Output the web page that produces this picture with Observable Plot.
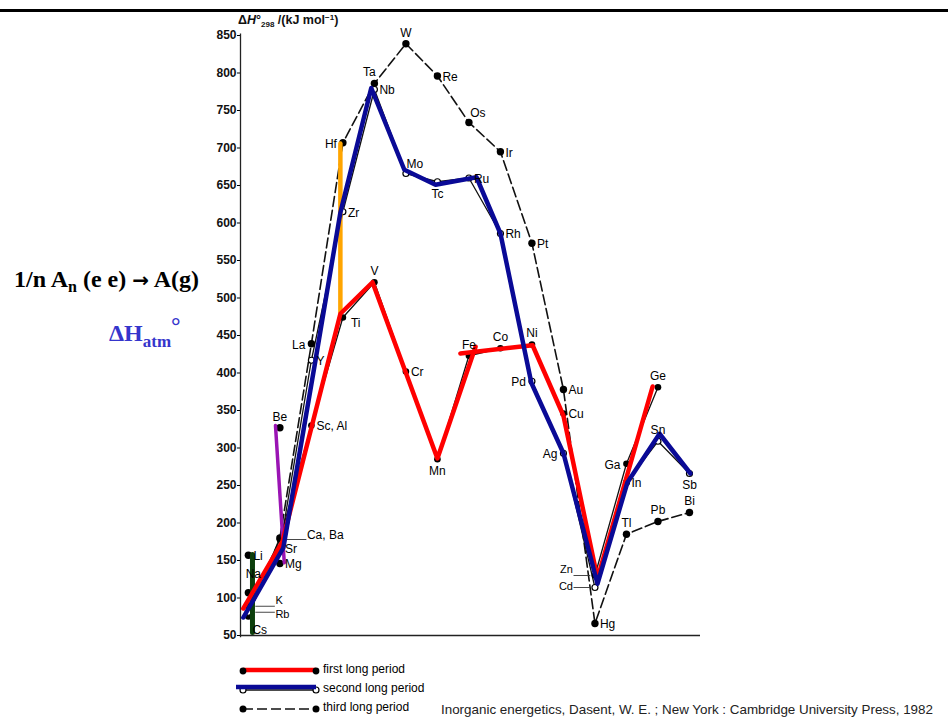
<!DOCTYPE html>
<html>
<head>
<meta charset="utf-8">
<script src="https://cdn.jsdelivr.net/npm/d3@7"></script>
<script src="https://cdn.jsdelivr.net/npm/@observablehq/plot@0.6"></script>
<style>
  body { margin: 0; background: #fff; }
  #wrap { position: relative; width: 948px; height: 723px; overflow: hidden; }
  #wrap > svg { position: absolute; left: 0; top: 0; }
</style>
</head>
<body>
<div id="wrap"></div>
<script>
// ---------- data ----------
// y-axis ticks (kJ/mol)
const yTicks = [50,100,150,200,250,300,350,400,450,500,550,600,650,700,750,800,850];

// first long period (filled dots, solid thin line)
const p4Els  = ["K","Ca","Sc","Ti","V","Cr","Mn","Fe","Co","Ni","Cu","Zn","Ga","Ge"];
const p4Vals = [89,178,330,474,521,402,285,423,433,438,346,130,279,381];
// second long period (open circles, solid thin line)
const p5Els  = ["Rb","Sr","Y","Zr","Nb","Mo","Tc","Ru","Rh","Pd","Ag","Cd","In","Sn","Sb"];
const p5Vals = [81,166,417,615,778,666,655,660,586,389,293,114,254,309,266];
// third long period (filled dots, dashed line)
const p6Els  = ["Cs","Ba","La","Hf","Ta","W","Re","Os","Ir","Pt","Au","Hg","Tl","Pb","Bi"];
const p6Vals = [76,180,439,707,786,839,796,734,695,573,378,66,185,202,214];
// light elements (filled dots, unconnected)
const lightEls    = ["Li","Na","Be","Mg"];
const lightGroups = [1,1,2,2];
const lightVals   = [157,107,327,146];

// hand-drawn coloured overlays (group position, value)
const redGroupsA  = [0.84,2.08,3.92,4.94,7.0,8.21];
const redValsA    = [86,175,479,521,286,435];
const redGroupsB  = [7.73,10.02,11.0,12.08,13.83];
const redValsB    = [426,437,343,126,382];
const blueGroups  = [0.84,2.11,3.13,3.92,4.90,5.95,6.94,8.24,9.0,9.98,11.0,12.08,13.03,14.05,15.03];
const blueVals    = [74,167,417,614,780,671,651,661,586,387,293,119,254,319,266];
const greenGroups = [1.13,1.13];
const greenVals   = [158,54];
const purpleGroups= [1.86,2.14];
const purpleVals  = [330,147];
const orangeGroups= [3.92,3.92];
const orangeVals  = [706,481];

// label texts / placement
const labelNames = {Sc: "Sc, Al", Ca: "Ca, Ba"};
const labRight      = ["Li","Mg","Sc","Y","Zr","Nb","Cr","Re","Ru","Rh","Ir","Pt","Au","Hg","In","Sr","Cu"];
const labLeft       = ["La","Hf","Pd","Ag","Ga"];
const labAbove      = ["Be","V","W","Fe","Co","Ni","Tl","Ge","Sn","Pb","Bi"];
const labAboveLeft  = ["Ta"];
const labAboveHigh  = ["Na"];
const labAboveRight = ["Os","Mo"];
const labBelow      = ["Mn","Tc","Sb"];
const labBelowRight = ["Ti"];
const labBelowFar   = ["Cs"];
const labLeaderRightCa = ["Ca"];
const labLeaderRightK  = ["K"];
const labLeaderRightRb = ["Rb"];
const labLeaderLeftZn  = ["Zn"];
const labLeaderLeftCd  = ["Cd"];

// ---------- build tables ----------
const mk = (els, vals, groups) => els.map((el, i) => ({el, g: groups ? groups[i] : i + 1, v: vals[i]}));
const p4 = mk(p4Els, p4Vals);
const p5 = mk(p5Els, p5Vals);
const p6 = mk(p6Els, p6Vals);
const light = mk(lightEls, lightVals, lightGroups);
const allPts = [...p4, ...p5, ...p6, ...light];
const ov = (gs, vs, seg) => gs.map((g, i) => ({g, v: vs[i], seg}));
const red = [...ov(redGroupsA, redValsA, "a"), ...ov(redGroupsB, redValsB, "b")];
const blue = ov(blueGroups, blueVals);
const green = ov(greenGroups, greenVals);
const purple = ov(purpleGroups, purpleVals);
const orange = ov(orangeGroups, orangeVals);

const FONT = "'Liberation Sans', Arial, Helvetica, sans-serif";
const pick = list => allPts.filter(d => list.includes(d.el));
const lab = (list, o) => Plot.text(pick(list), {x: "g", y: "v", text: d => labelNames[d.el] ?? d.el,
  fontSize: 12, fill: "#000", fontFamily: FONT, ...o});

const chart = Plot.plot({
  width: 948, height: 723,
  marginLeft: 240, marginRight: 248, marginTop: 35, marginBottom: 88,
  style: {background: "transparent", fontFamily: FONT},
  x: {domain: [0.75, 15.35], axis: null},
  y: {domain: [50, 850]},
  marks: [
    Plot.axisY(yTicks, {anchor: "left", tickSize: 3, tickPadding: 1, fontSize: 12, fontWeight: "bold",
      fill: "#111", label: null, tickFormat: d => String(d)}),
    Plot.ruleX([0.75], {y1: 47, y2: 852, stroke: "#222", strokeWidth: 1.3}),
    Plot.ruleY([50], {x1: 0.75, x2: 15.35, stroke: "#222", strokeWidth: 1.3}),
    // original black series
    Plot.line(p6, {x: "g", y: "v", stroke: "#111", strokeWidth: 1.6, strokeDasharray: "10,4"}),
    Plot.line(p5, {x: "g", y: "v", stroke: "#111", strokeWidth: 1.3}),
    Plot.line(p4, {x: "g", y: "v", stroke: "#111", strokeWidth: 1.3}),
    Plot.dot(p6, {x: "g", y: "v", r: 3.7, fill: "#000"}),
    Plot.dot(p4, {x: "g", y: "v", r: 3.3, fill: "#000"}),
    Plot.dot(light, {x: "g", y: "v", r: 3.7, fill: "#000"}),
    Plot.dot(p5, {x: "g", y: "v", r: 3, fill: "#fff", stroke: "#000", strokeWidth: 1.2}),
    // leader lines
    Plot.link(pick([...labLeaderRightCa, ...labLeaderRightK, ...labLeaderRightRb]), {x1: d => d.g + 0.22, x2: d => d.g + 0.84, y1: "v", y2: "v", stroke: "#333", strokeWidth: 0.9}),
    Plot.link(pick([...labLeaderLeftZn, ...labLeaderLeftCd]), {x1: d => d.g - 0.68, x2: d => d.g - 0.15, y1: "v", y2: "v", stroke: "#333", strokeWidth: 0.9}),
    // coloured overlays
    Plot.line(green, {x: "g", y: "v", stroke: "#0c3f0c", strokeWidth: 5}),
    Plot.line(purple, {x: "g", y: "v", stroke: "#9a14b4", strokeWidth: 3.5}),
    Plot.line(orange, {x: "g", y: "v", stroke: "#ffa500", strokeWidth: 4.5}),
    Plot.line(red, {x: "g", y: "v", z: "seg", stroke: "#ff0000", strokeWidth: 4.5}),
    Plot.line(blue, {x: "g", y: "v", stroke: "#0a0a96", strokeWidth: 4.5}),
    // element labels
    lab(labRight, {dx: 5, dy: 1, textAnchor: "start"}),
    lab(labLeft, {dx: -6, dy: 1, textAnchor: "end"}),
    lab(labAbove, {dy: -11}),
    lab(labAboveLeft, {dx: -5, dy: -11}),
    lab(labAboveHigh, {dx: 5, dy: -19}),
    lab(labAboveRight, {dx: 9, dy: -9}),
    lab(labBelow, {dy: 12}),
    lab(labBelowRight, {dx: 8, dy: 6, textAnchor: "start"}),
    lab(labBelowFar, {dx: 4, dy: 14, textAnchor: "start"}),
    lab(labLeaderRightCa, {dx: 27, dy: -4, textAnchor: "start"}),
    lab(labLeaderRightK, {dx: 27, dy: -6, textAnchor: "start", fontSize: 11}),
    lab(labLeaderRightRb, {dx: 27, dy: 2, textAnchor: "start", fontSize: 11}),
    lab(labLeaderLeftZn, {dx: -22, dy: -6, textAnchor: "end", fontSize: 11}),
    lab(labLeaderLeftCd, {dx: -22, dy: -1, textAnchor: "end", fontSize: 11})
  ]
});
document.getElementById("wrap").appendChild(chart);

// ---------- annotations (title bar, axis title, legend, caption) ----------
const ns = "http://www.w3.org/2000/svg";
const ann = document.createElementNS(ns, "svg");
ann.setAttribute("width", 948); ann.setAttribute("height", 723);
ann.innerHTML = `
  <rect x="0" y="9" width="948" height="3" fill="#000"/>
  <text x="238" y="24" font-family="${FONT}" font-size="12.5" font-weight="bold" fill="#111">Δ<tspan font-style="italic">H</tspan>°<tspan dy="3" font-size="8">298</tspan><tspan dy="-3"> /(kJ mol</tspan><tspan dy="-4" font-size="8">−1</tspan><tspan dy="4">)</tspan></text>
  <text x="14" y="287" font-family="'Liberation Serif','Times New Roman',serif" font-size="24" font-weight="bold" fill="#000">1/n A<tspan dy="5" font-size="16">n</tspan><tspan dy="-5"> (e e) </tspan><tspan font-family="'DejaVu Sans',sans-serif" font-size="20">→</tspan><tspan> A(g)</tspan></text>
  <text x="109" y="341" font-family="'Liberation Serif','Times New Roman',serif" font-size="24" font-weight="bold" fill="#3535cc">ΔH<tspan dy="6" font-size="17">atm</tspan><tspan dy="-13" font-size="24">°</tspan></text>
  <g font-family="${FONT}" font-size="12" fill="#000">
    <line x1="243" y1="670" x2="316" y2="670" stroke="#ff0000" stroke-width="4.5"/>
    <circle cx="243" cy="671" r="3.4" fill="#000"/><circle cx="316" cy="671" r="3.4" fill="#000"/>
    <text x="323" y="673">first long period</text>
    <line x1="243" y1="690" x2="316" y2="690" stroke="#111" stroke-width="1.3"/>
    <circle cx="243" cy="690" r="3" fill="#fff" stroke="#000" stroke-width="1.2"/>
    <circle cx="316" cy="690" r="3" fill="#fff" stroke="#000" stroke-width="1.2"/>
    <line x1="236" y1="687" x2="316" y2="687" stroke="#0a0a96" stroke-width="4.5"/>
    <text x="323" y="692">second long period</text>
    <line x1="243" y1="709" x2="316" y2="709" stroke="#111" stroke-width="1.6" stroke-dasharray="10,4"/>
    <circle cx="243" cy="709" r="3.5" fill="#000"/><circle cx="316" cy="709" r="3.5" fill="#000"/>
    <text x="323" y="711">third long period</text>
  </g>
  <text x="441" y="714" font-family="${FONT}" font-size="13.4" fill="#222">Inorganic energetics, Dasent, W. E. ; New York : Cambridge University Press, 1982</text>
`;
document.getElementById("wrap").appendChild(ann);
</script>
</body>
</html>
